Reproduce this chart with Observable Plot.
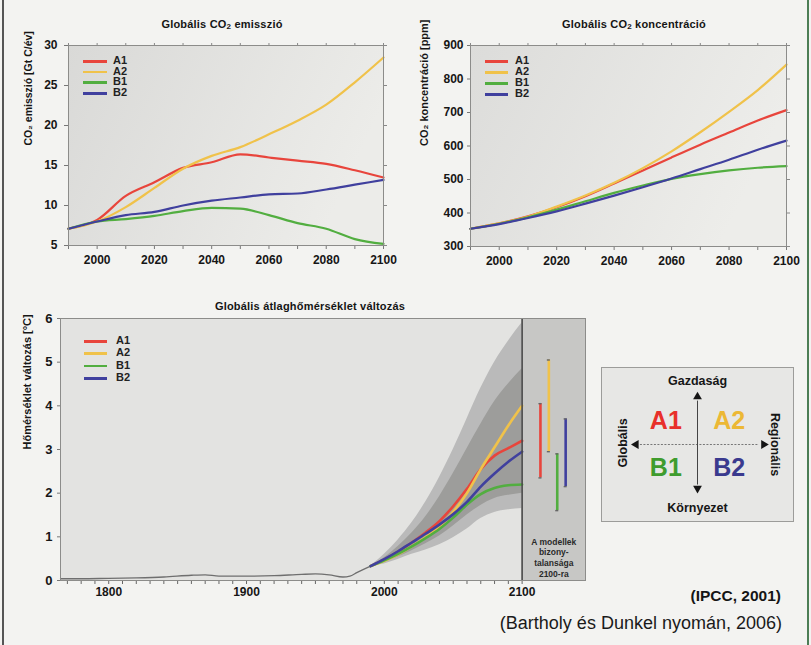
<!DOCTYPE html>
<html><head><meta charset="utf-8">
<script src="https://cdn.jsdelivr.net/npm/d3@7"></script>
<script src="https://cdn.jsdelivr.net/npm/@observablehq/plot@0.6"></script>
<style>
body{margin:0;background:#f3f3f1;}
#page{position:relative;width:811px;height:645px;overflow:hidden;background:#f3f3f1;font-family:"Liberation Sans",Arial,sans-serif;color:#151515;}
.title{position:absolute;font-weight:bold;font-size:11px;line-height:13px;white-space:nowrap;transform:translateX(-50%);letter-spacing:0.2px;}
.title sub{font-size:8px;vertical-align:-1px;}
.leg{position:absolute;font-weight:bold;font-size:11px;line-height:11px;}
.legline{position:absolute;height:2.5px;}
</style></head><body><div id="page"></div>
<script>
// ---------------- data ----------------
const scenarios = ["A1", "A2", "B1", "B2"];
const colors = ["#e8453c", "#f0c24a", "#52ae40", "#40409e"];
const years = [1990, 2000, 2010, 2020, 2030, 2040, 2050, 2060, 2070, 2080, 2090, 2100];

// Global CO2 emission [Gt C/yr]
const emA1 = [7.1, 8.2, 11.2, 12.9, 14.7, 15.4, 16.4, 16.0, 15.6, 15.2, 14.4, 13.5];
const emA2 = [7.1, 8.0, 9.8, 12.2, 14.6, 16.2, 17.3, 18.9, 20.6, 22.6, 25.4, 28.5];
const emB1 = [7.1, 8.0, 8.3, 8.7, 9.3, 9.7, 9.6, 8.8, 7.8, 7.1, 5.8, 5.2];
const emB2 = [7.1, 8.0, 8.8, 9.2, 10.0, 10.6, 11.0, 11.4, 11.5, 12.0, 12.6, 13.2];

// Global CO2 concentration [ppm]
const coA1 = [353, 369, 390, 417, 450, 488, 527, 566, 604, 640, 676, 707];
const coA2 = [353, 369, 389, 419, 452, 490, 534, 584, 641, 702, 767, 843];
const coB1 = [353, 368, 387, 410, 435, 460, 482, 502, 516, 527, 535, 540];
const coB2 = [353, 367, 385, 405, 428, 452, 477, 503, 531, 559, 589, 616];

// Temperature change [°C]
const tA1 = [0.33, 0.48, 0.66, 0.87, 1.1, 1.36, 1.7, 2.1, 2.55, 2.86, 3.03, 3.2];
const tA2 = [0.33, 0.45, 0.6, 0.78, 0.99, 1.23, 1.57, 2.0, 2.55, 3.05, 3.55, 4.0];
const tB1 = [0.33, 0.46, 0.61, 0.78, 0.97, 1.18, 1.44, 1.74, 1.98, 2.12, 2.18, 2.2];
const tB2 = [0.33, 0.49, 0.67, 0.87, 1.07, 1.28, 1.52, 1.8, 2.15, 2.45, 2.72, 2.95];
const outerLo = [0.33, 0.38, 0.48, 0.6, 0.7, 0.82, 0.98, 1.18, 1.42, 1.56, 1.62, 1.65];
const outerHi = [0.33, 0.6, 0.93, 1.32, 1.8, 2.36, 3.0, 3.7, 4.4, 5.0, 5.48, 5.9];
const innerLo = [0.33, 0.42, 0.54, 0.68, 0.84, 1.02, 1.25, 1.5, 1.72, 1.88, 1.95, 2.0];
const innerHi = [0.33, 0.52, 0.78, 1.09, 1.46, 1.92, 2.45, 3.02, 3.58, 4.1, 4.5, 4.85];
const histYears = [1765, 1780, 1800, 1820, 1840, 1860, 1870, 1880, 1900, 1920, 1940, 1950, 1960, 1970, 1975, 1980, 1990];
const histTemp = [0.04, 0.04, 0.05, 0.06, 0.08, 0.12, 0.13, 0.1, 0.1, 0.11, 0.14, 0.15, 0.13, 0.08, 0.1, 0.18, 0.33];
// 2100 uncertainty ranges
const rangeLo = [2.35, 2.95, 1.6, 2.15];
const rangeHi = [4.05, 5.05, 2.9, 3.7];

// texts
const title1 = "Globális CO<sub>2</sub> emisszió";
const title2 = "Globális CO<sub>2</sub> koncentráció";
const title3 = "Globális átlaghőmérséklet változás";
const ylab1 = "CO₂ emisszió [Gt C/év]";
const ylab2 = "CO₂ koncentráció [ppm]";
const ylab3 = "Hőmérséklet változás [°C]";
const panelText = "A modellek\nbizony-\ntalansága\n2100-ra";
const quadNames = ["A1", "A2", "B1", "B2"];
const quadColors = ["#e8302a", "#ecb835", "#3f9c2e", "#3a3a8e"];
const axisNames = ["Gazdaság", "Környezet", "Globális", "Regionális"];
const caption1 = "(IPCC, 2001)";
const caption2 = "(Bartholy és Dunkel nyomán, 2006)";

// ---------------- helpers ----------------
const page = document.getElementById("page");
const font = "'Liberation Sans', Arial, sans-serif";
function place(node, left, top, w, h) {
  const d = document.createElement("div");
  d.style.cssText = `position:absolute;left:${left}px;top:${top}px;width:${w}px;height:${h}px;`;
  d.appendChild(node); page.appendChild(d); return d;
}
function html(tag, cls, css, inner) {
  const e = document.createElement(tag); if (cls) e.className = cls;
  e.style.cssText = css; e.innerHTML = inner; page.appendChild(e); return e;
}
function long(arrs, key) {
  return scenarios.flatMap((s, i) => years.map((y, j) => ({scenario: s, year: y, [key]: arrs[i][j]})));
}
function gradDefs(id, c1, c2) {
  return () => {
    const g = d3.create("svg:g");
    const lg = g.append("defs").append("linearGradient").attr("id", id)
      .attr("x1", "0").attr("x2", "1").attr("y1", "0").attr("y2", "0.3");
    lg.append("stop").attr("offset", "0").attr("stop-color", c1);
    lg.append("stop").attr("offset", "1").attr("stop-color", c2);
    return g.node();
  };
}
function legend(left, top, rowH, lineW, textX) {
  scenarios.forEach((s, i) => {
    html("div", "legline", `left:${left}px;top:${top + i * rowH - 1}px;width:${lineW}px;background:${colors[i]};`, "");
    html("div", "leg", `left:${textX}px;top:${top + i * rowH - 6}px;color:#222;`, s);
  });
}
const fmt = d => String(d);

// ---------------- chart 1: emission ----------------
const emis = long([emA1, emA2, emB1, emB2], "value");
const p1 = Plot.plot({
  width: 400, height: 275, marginLeft: 68, marginRight: 17, marginTop: 45, marginBottom: 30,
  style: {background: "transparent", fontFamily: font, fontSize: "12px", fontWeight: "bold", color: "#161616", overflow: "visible"},
  x: {domain: [1990, 2100]}, y: {domain: [5, 30]},
  color: {domain: scenarios, range: colors},
  marks: [
    gradDefs("g1", "#d9d9d7", "#ecece9"),
    Plot.frame({fill: "url(#g1)"}),
    Plot.axisX({ticks: d3.range(1990, 2101, 10), tickFormat: d => d % 20 === 0 ? String(d) : "", tickSize: 4, tickPadding: 6, label: null, stroke: "#777"}),
    Plot.axisX({anchor: "top", ticks: d3.range(1990, 2101, 10), tickFormat: () => "", tickSize: 3, label: null, stroke: "#888"}),
    Plot.axisY({ticks: d3.range(5, 31, 5), tickFormat: fmt, tickSize: 4, tickPadding: 7, label: null, stroke: "#777"}),
    Plot.axisY({anchor: "right", ticks: d3.range(5, 31, 5), tickFormat: () => "", tickSize: 3, label: null, stroke: "#888"}),
    Plot.line(emis, {x: "year", y: "value", stroke: "scenario", strokeWidth: 2.2, curve: "monotone-x"}),
    Plot.frame({stroke: "#8c8c8a"}),
    Plot.text([ylab1], {text: d => d, frameAnchor: "left", rotate: -90, dx: -40, fontSize: 10.5})
  ]
});
place(p1, 0, 0, 400, 275);

// ---------------- chart 2: concentration ----------------
const conc = long([coA1, coA2, coB1, coB2], "value");
const p2 = Plot.plot({
  width: 411, height: 275, marginLeft: 70, marginRight: 25, marginTop: 45, marginBottom: 29,
  style: {background: "transparent", fontFamily: font, fontSize: "12px", fontWeight: "bold", color: "#161616", overflow: "visible"},
  x: {domain: [1990, 2100]}, y: {domain: [300, 900]},
  color: {domain: scenarios, range: colors},
  marks: [
    gradDefs("g2", "#dcdcda", "#ededea"),
    Plot.frame({fill: "url(#g2)"}),
    Plot.axisX({ticks: d3.range(1990, 2101, 10), tickFormat: d => d % 20 === 0 ? String(d) : "", tickSize: 4, tickPadding: 6, label: null, stroke: "#777"}),
    Plot.axisX({anchor: "top", ticks: d3.range(1990, 2101, 10), tickFormat: () => "", tickSize: 3, label: null, stroke: "#888"}),
    Plot.axisY({ticks: d3.range(300, 901, 100), tickFormat: fmt, tickSize: 3, tickPadding: 4, label: null, stroke: "#777"}),
    Plot.axisY({anchor: "right", ticks: d3.range(300, 901, 100), tickFormat: () => "", tickSize: 3, label: null, stroke: "#888"}),
    Plot.line(conc, {x: "year", y: "value", stroke: "scenario", strokeWidth: 2.2, curve: "monotone-x"}),
    Plot.frame({stroke: "#8c8c8a"}),
    Plot.text([ylab2], {text: d => d, frameAnchor: "left", rotate: -90, dx: -46, fontSize: 11})
  ]
});
place(p2, 400, 0, 411, 275);

// ---------------- chart 3: temperature ----------------
const xMin = 1765, panelStart = 2100, xMax = 2146;
const temp = long([tA1, tA2, tB1, tB2], "value");
const env = years.map((y, j) => ({year: y, olo: outerLo[j], ohi: outerHi[j], ilo: innerLo[j], ihi: innerHi[j]}));
const hist = histYears.map((y, j) => ({year: y, value: histTemp[j]}));
const bars = scenarios.map((s, i) => ({scenario: s, pos: panelStart + 13.3 + 6.1 * i, lo: rangeLo[i], hi: rangeHi[i]}));
const p3 = Plot.plot({
  width: 600, height: 320, marginLeft: 60, marginRight: 15, marginTop: 28, marginBottom: 30,
  style: {background: "transparent", fontFamily: font, fontSize: "12px", fontWeight: "bold", color: "#161616", overflow: "visible"},
  x: {domain: [xMin, xMax]}, y: {domain: [0, 6]},
  color: {domain: scenarios, range: colors},
  marks: [
    Plot.frame({fill: "#e3e3e1"}),
    Plot.rect([{x1: panelStart, x2: xMax}], {x1: "x1", x2: "x2", y1: 0, y2: 6, fill: "#c7c7c5"}),
    Plot.areaY(env, {x: "year", y1: "olo", y2: "ohi", fill: "#bababa", curve: "monotone-x"}),
    Plot.areaY(env, {x: "year", y1: "ilo", y2: "ihi", fill: "#9d9d9b", curve: "monotone-x"}),
    Plot.line(hist, {x: "year", y: "value", stroke: "#6f6f6f", strokeWidth: 1.3, curve: "monotone-x"}),
    Plot.line(temp, {x: "year", y: "value", stroke: "scenario", strokeWidth: 2.6, curve: "monotone-x"}),
    Plot.ruleX([panelStart], {stroke: "#4a4a4a", strokeWidth: 1.6}),
    Plot.ruleX(bars, {x: "pos", y1: "lo", y2: "hi", stroke: "scenario", strokeWidth: 2.6}),
    Plot.ruleY(bars, {y: "hi", x1: d => d.pos - 1.1, x2: d => d.pos + 1.1, stroke: "#666", strokeWidth: 1.4}),
    Plot.ruleY(bars, {y: "lo", x1: d => d.pos - 1.1, x2: d => d.pos + 1.1, stroke: "#666", strokeWidth: 1.4}),
    Plot.text([panelText], {text: d => d, x: (panelStart + xMax) / 2, frameAnchor: "bottom", lineAnchor: "bottom", dy: -4, fontSize: 8.5, lineHeight: 1.25, fill: "#2a2a2a"}),
    Plot.axisX({ticks: d3.range(1770, 2101, 10), tickFormat: d => d % 100 === 0 ? String(d) : "", tickSize: 4, tickPadding: 3, label: null, stroke: "#666"}),
    Plot.axisY({ticks: d3.range(0, 7, 1), tickFormat: fmt, tickSize: 3, tickPadding: 5, label: null, stroke: "#777", fontSize: 13}),
    Plot.frame({stroke: "#8c8c8a"}),
    Plot.text([ylab3], {text: d => d, frameAnchor: "left", rotate: -90, dx: -33, fontSize: 11})
  ]
});
place(p3, 0, 290, 600, 320);

// ---------------- quadrant diagram ----------------
const qx = [-1, 1, -1, 1], qy = [1, 1, -1, -1];
const quad = quadNames.map((n, i) => ({name: n, x: qx[i] * 0.33, y: qy[i] * 0.31, color: quadColors[i]}));
const axLabels = [
  {t: axisNames[0], x: 0, y: 0.82, r: 0},
  {t: axisNames[1], x: 0, y: -0.82, r: 0},
  {t: axisNames[2], x: -0.78, y: 0.02, r: -90},
  {t: axisNames[3], x: 0.81, y: 0, r: 90}
];
const heads = [
  {x: 0, y: 0.62, r: 0}, {x: 0, y: -0.57, r: 180},
  {x: -0.64, y: 0, r: -90}, {x: 0.69, y: 0, r: 90}
];
const p4 = Plot.plot({
  width: 192, height: 154, margin: 0,
  style: {background: "transparent", fontFamily: font, fontWeight: "bold", overflow: "visible"},
  x: {domain: [-1, 1], axis: null}, y: {domain: [-1, 1], axis: null},
  marks: [
    Plot.frame({fill: "#e7e7e5", stroke: "#9c9c9a"}),
    Plot.link([{x1: -0.6, x2: 0.64}], {x1: "x1", x2: "x2", y1: 0, y2: 0, stroke: "#777", strokeWidth: 1.2, strokeDasharray: "2,1.5"}),
    Plot.link([{y1: -0.52, y2: 0.57}], {x1: 0, x2: 0, y1: "y1", y2: "y2", stroke: "#444", strokeWidth: 1}),
    Plot.dot(heads, {x: "x", y: "y", rotate: "r", symbol: "triangle2", r: 4.2, fill: "#151515"}),
    Plot.text(quad, {x: "x", y: "y", text: "name", fill: "color", fontSize: 25}),
    Plot.text(axLabels, {x: "x", y: "y", text: "t", rotate: "r", fontSize: 12.5, fill: "#161616"})
  ]
});
place(p4, 601, 367, 192, 154);

// ---------------- titles, legends, captions ----------------
html("div", "title", "left:222px;top:18px;", title1);
html("div", "title", "left:634px;top:18px;", title2);
html("div", "title", "left:310px;top:300px;", title3);
legend(83, 61, 10.7, 24, 113);
legend(485, 61, 11, 23, 515);
legend(84, 341, 12.4, 23, 116);
html("div", "", "position:absolute;right:30px;top:587px;font-weight:bold;font-size:15.5px;white-space:nowrap;", caption1);
html("div", "", "position:absolute;right:29px;top:613px;font-size:18px;white-space:nowrap;color:#1a1a1a;", caption2);
// page edges
html("div", "", "position:absolute;left:2px;top:0;width:2px;height:645px;background:#555;", "");
html("div", "", "position:absolute;left:807px;top:0;width:2px;height:645px;background:#4c7d55;", "");
</script></body></html>
